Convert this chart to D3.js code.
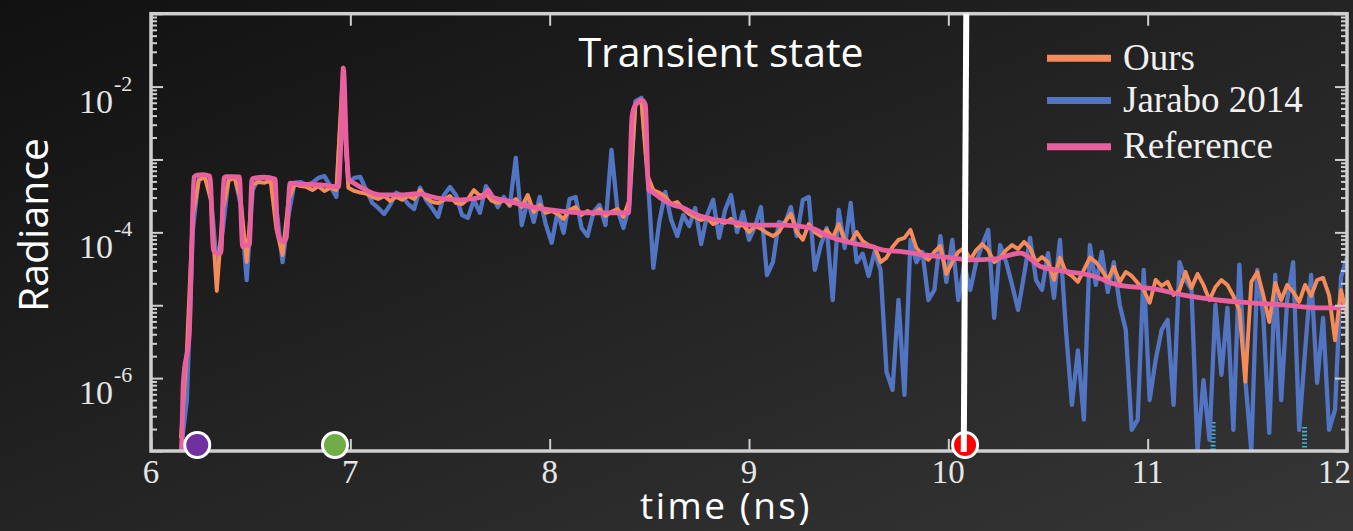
<!DOCTYPE html>
<html>
<head>
<meta charset="utf-8">
<script src="https://cdn.jsdelivr.net/npm/d3@7"></script>
<style>
  html, body { margin: 0; padding: 0; background: #1c1c1c; }
  svg { display: block; }
</style>
</head>
<body>
<svg id="chart" width="1353" height="531"></svg>
<script>
// Time-resolved radiance at one pixel (log scale), three estimators.
// "Ours" and "Jarabo 2014" are sampled on a uniform time grid.
const sampleStart = 6.15;   // ns
const sampleStep = 0.03;    // ns

const ours = [
  1.5e-7, 2.4e-6, 1.73e-4, 5.2e-4, 5.75e-4, 2.8e-4, 1.57e-5, 2.0e-4, 5.2e-4, 5.6e-4,
  2.8e-4, 3.9e-5, 4.5e-4, 4.9e-4, 4.8e-4, 5.1e-4, 1.08e-4, 4.9e-5, 2.8e-4, 4.6e-4,
  4.3e-4, 4.2e-4, 3.8e-4, 4.3e-4, 3.7e-4, 4.1e-4, 3.8e-4, 1.2e-2, 4.1e-4, 3.7e-4,
  3.5e-4, 3.4e-4, 3.06e-4, 2.87e-4, 3.16e-4, 2.7e-4, 3.06e-4, 2.79e-4, 3.16e-4, 2.87e-4,
  3.8e-4, 2.96e-4, 2.61e-4, 2.53e-4, 2.79e-4, 3.16e-4, 2.53e-4, 2.45e-4, 2.87e-4, 3.8e-4,
  3.16e-4, 3.4e-4, 2.7e-4, 2.53e-4, 2.79e-4, 2.38e-4, 2.87e-4, 2.23e-4, 3.26e-4, 1.91e-4,
  2.38e-4, 1.85e-4, 1.97e-4, 1.79e-4, 1.53e-4, 2.03e-4, 2.23e-4, 1.73e-4, 1.97e-4, 1.79e-4,
  2.09e-4, 1.68e-4, 1.91e-4, 2.09e-4, 1.63e-4, 2.79e-4, 5.6e-3, 6.5e-3, 6.1e-4, 3.8e-4,
  3.5e-4, 3.06e-4, 2.45e-4, 2.61e-4, 2.09e-4, 1.79e-4, 1.63e-4, 1.48e-4, 1.58e-4, 1.30e-4,
  1.43e-4, 1.35e-4, 1.53e-4, 1.22e-4, 1.26e-4, 1.01e-4, 1.22e-4, 1.12e-4, 9.8e-5, 8.9e-5,
  1.01e-4, 1.39e-4, 1.79e-4, 1.01e-4, 7.9e-5, 1.30e-4, 1.01e-4, 8.9e-5, 1.08e-4, 8.4e-5,
  1.30e-4, 7.9e-5, 7.2e-5, 1.01e-4, 7.6e-5, 6.7e-5, 6.3e-5, 3.9e-5, 4.5e-5, 6.3e-5,
  7.9e-5, 8.4e-5, 1.08e-4, 6.1e-5, 4.9e-5, 4.2e-5, 5.4e-5, 6.5e-5, 2.69e-5, 3.9e-5,
  5.4e-5, 6.1e-5, 4.2e-5, 5.7e-5, 6.9e-5, 5.7e-5, 3.9e-5, 4.5e-5, 5.7e-5, 6.7e-5,
  5.9e-5, 7.4e-5, 6.1e-5, 3.9e-5, 4.6e-5, 3.9e-5, 2.22e-5, 4.5e-5, 2.86e-5, 2.52e-5,
  2.09e-5, 3.05e-5, 4.5e-5, 3.9e-5, 3.05e-5, 2.22e-5, 3.35e-5, 2.09e-5, 2.86e-5, 2.52e-5,
  2.02e-5, 1.62e-5, 1.08e-5, 2.22e-5, 1.84e-5, 2.09e-5, 1.38e-5, 1.62e-5, 2.86e-5, 1.73e-5,
  2.69e-5, 1.90e-5, 1.18e-5, 1.78e-5, 2.22e-5, 1.90e-5, 1.34e-5, 8.6e-6, 8.9e-7, 2.09e-5,
  2.86e-5, 1.38e-5, 5.9e-6, 2.02e-5, 1.18e-5, 1.90e-5, 1.52e-5, 1.11e-5, 1.90e-5, 1.34e-5,
  2.22e-5, 2.37e-5, 1.38e-5, 3.3e-6, 1.62e-5, 7.1e-6
];

const jarabo = [
  1.0e-7, 5.0e-7, 1.08e-4, 5.75e-4, 5.9e-4, 3.26e-4, 3.6e-5, 1.08e-4, 5.75e-4, 5.75e-4,
  2.38e-4, 2.22e-5, 3.8e-4, 5.6e-4, 5.6e-4, 5.4e-4, 2.03e-4, 3.9e-5, 1.73e-4, 4.8e-4,
  4.9e-4, 4.5e-4, 4.8e-4, 5.6e-4, 5.9e-4, 4.3e-4, 3.06e-4, 9.0e-3, 4.8e-4, 5.6e-4,
  5.75e-4, 3.8e-4, 2.53e-4, 2.16e-4, 1.79e-4, 2.38e-4, 3.5e-4, 3.16e-4, 2.45e-4, 2.09e-4,
  4.1e-4, 2.79e-4, 2.16e-4, 1.63e-4, 3.26e-4, 4.2e-4, 3.26e-4, 1.73e-4, 1.58e-4, 2.79e-4,
  1.85e-4, 4.3e-4, 3.26e-4, 2.23e-4, 3.06e-4, 2.30e-4, 1.05e-3, 1.26e-4, 2.79e-4, 1.39e-4,
  3.06e-4, 1.30e-4, 7.2e-5, 1.91e-4, 9.8e-5, 2.87e-4, 3.06e-4, 1.15e-4, 8.9e-5, 1.91e-4,
  2.38e-4, 1.26e-4, 1.35e-3, 2.03e-4, 1.15e-4, 2.38e-4, 6.3e-3, 7.0e-3, 7.2e-4, 3.25e-5,
  1.39e-4, 3.6e-4, 1.48e-4, 8.9e-5, 1.73e-4, 1.22e-4, 2.16e-4, 6.9e-5, 1.73e-4, 2.79e-4,
  8.4e-5, 2.03e-4, 3.26e-4, 1.01e-4, 1.91e-4, 7.9e-5, 1.19e-4, 2.23e-4, 2.6e-5, 3.9e-5,
  1.39e-4, 1.30e-4, 2.23e-4, 8.9e-5, 2.79e-4, 3.06e-4, 3.05e-5, 6.7e-5, 1.15e-4, 1.18e-5,
  2.03e-4, 6.1e-5, 2.53e-4, 3.9e-5, 5.1e-5, 2.52e-5, 5.4e-5, 3.05e-5, 1.22e-6, 6.9e-7,
  1.18e-5, 5.9e-7, 7.9e-5, 3.9e-5, 5.4e-5, 1.18e-5, 1.62e-5, 8.9e-5, 2.09e-5, 7.9e-5,
  1.18e-5, 3.6e-5, 1.62e-5, 3.9e-5, 6.7e-5, 1.08e-4, 6.7e-6, 6.7e-5, 3.9e-5, 1.90e-5,
  8.6e-6, 2.6e-5, 8.4e-5, 2.22e-5, 1.62e-5, 5.2e-5, 1.26e-5, 7.9e-5, 4.6e-6, 4.3e-7,
  2.4e-6, 2.7e-7, 6.7e-5, 1.90e-5, 5.4e-5, 1.52e-5, 3.9e-5, 1.01e-5, 4.6e-6, 1.95e-7,
  2.7e-7, 3.05e-5, 5.0e-7, 1.78e-6, 4.6e-6, 6.3e-6, 4.3e-7, 3.9e-5, 2.22e-5, 1.62e-5,
  1.0e-7, 9.4e-7, 1.42e-7, 1.01e-5, 1.11e-6, 9.2e-6, 1.95e-7, 3.6e-5, 9.4e-7, 1.0e-7,
  3.05e-5, 7.1e-6, 1.77e-7, 2.6e-5, 5.0e-7, 1.18e-5, 3.9e-5, 1.95e-7, 2.4e-6, 2.6e-5,
  8.6e-7, 6.7e-6, 1.95e-7, 3.7e-7, 2.45e-5, 4.5e-5
];

// Reference solution, sampled where it changes.
const referenceTimes = [
  6.154, 6.162, 6.192, 6.204, 6.216, 6.231, 6.261, 6.296, 6.313, 6.330,
  6.350, 6.366, 6.377, 6.443, 6.460, 6.472, 6.493, 6.506, 6.512, 6.567,
  6.622, 6.633, 6.643, 6.664, 6.678, 6.698, 6.748, 6.823, 6.873, 6.940,
  6.951, 6.965, 6.981, 6.994, 7.009, 7.049, 7.149, 7.250, 7.335, 7.436,
  7.551, 7.667, 7.690, 7.712, 7.802, 7.903, 8.003, 8.169, 8.395, 8.413,
  8.430, 8.463, 8.480, 8.496, 8.514, 8.555, 8.620, 8.671, 8.739, 8.840,
  8.940, 9.007, 9.173, 9.309, 9.409, 9.510, 9.609, 9.675, 9.775, 9.876,
  10.011, 10.111, 10.227, 10.362, 10.463, 10.597, 10.729, 10.848, 11.015, 11.181,
  11.350, 11.517, 11.683, 11.852, 12.0
];
const referenceValues = [
  1.0e-7, 8.6e-7, 4.2e-6, 5.7e-5, 5.75e-4, 6.1e-4, 6.2e-4, 5.9e-4, 5.7e-5, 5.2e-5,
  5.2e-5, 5.6e-4, 5.8e-4, 5.75e-4, 6.4e-5, 6.7e-5, 6.7e-5, 5.2e-4, 5.5e-4, 5.7e-4,
  5.4e-4, 1.26e-4, 8.4e-5, 7.4e-5, 8.4e-5, 4.75e-4, 4.6e-4, 4.5e-4, 4.4e-4, 4.2e-4,
  1.35e-3, 1.8e-2, 1.35e-3, 5.2e-4, 4.9e-4, 4.2e-4, 3.26e-4, 3.26e-4, 3.4e-4, 2.96e-4,
  2.79e-4, 3.06e-4, 3.8e-4, 3.06e-4, 2.64e-4, 2.25e-4, 2.03e-4, 1.85e-4, 1.85e-4, 3.8e-3,
  5.6e-3, 6.5e-3, 5.6e-3, 3.8e-4, 3.6e-4, 2.96e-4, 2.38e-4, 2.16e-4, 1.73e-4, 1.48e-4,
  1.35e-4, 1.26e-4, 1.26e-4, 1.15e-4, 8.6e-5, 7.2e-5, 6.4e-5, 5.7e-5, 5.4e-5, 4.9e-5,
  4.5e-5, 4.2e-5, 4.3e-5, 5.2e-5, 3.4e-5, 2.9e-5, 2.5e-5, 1.9e-5, 1.7e-5, 1.38e-5,
  1.18e-5, 1.08e-5, 1.01e-5, 9.2e-6, 9.2e-6
];

// Time bins where the Jarabo 2014 estimate is exactly zero.
const zeroBinTimes = [11.328, 11.787];

// Frames picked out on the time axis, and the frame currently shown.
const markerTimes = [6.232, 6.923, 10.084];
const markerColors = ["#7030a0", "#70ad47", "#ff0000"];
const currentTime = 10.09;

const xTickValues = [6, 7, 8, 9, 10, 11, 12];
const yLabelExponents = [-2, -4, -6];
const seriesNames = ["Ours", "Jarabo 2014", "Reference"];
const seriesColors = ["#f58b5b", "#5174c3", "#e9609e"];

// ---------------------------------------------------------------------------
const W = 1353, H = 531;
const plotL = 151, plotR = 1347, plotT = 13.7, plotB = 451;
const svg = d3.select("#chart");

const defs = svg.append("defs");
const bg = defs.append("linearGradient").attr("id", "bg")
  .attr("x1", 0).attr("y1", 0).attr("x2", 1).attr("y2", 1);
bg.append("stop").attr("offset", "0%").attr("stop-color", "#111111");
bg.append("stop").attr("offset", "100%").attr("stop-color", "#363636");
defs.append("clipPath").attr("id", "plotClip")
  .append("rect").attr("x", plotL).attr("y", plotT)
  .attr("width", plotR - plotL).attr("height", plotB - plotT);

svg.append("rect").attr("width", W).attr("height", H).attr("fill", "url(#bg)");

const x = d3.scaleLinear().domain([6, 12]).range([plotL, plotR]);
const y = d3.scaleLog().domain([1e-7, 1e-1]).range([plotB, plotT]);

const gridPoints = vals => vals.map((v, i) => [sampleStart + i * sampleStep, v]);
const line = d3.line().x(d => x(d[0])).y(d => y(d[1]));
const smoothLine = d3.line().x(d => x(d[0])).y(d => y(d[1])).curve(d3.curveMonotoneX);

const plot = svg.append("g").attr("clip-path", "url(#plotClip)");

// Zero bins: hatched stubs standing on the time axis.
plot.selectAll("line.zero").data(zeroBinTimes).join("line")
  .attr("class", "zero")
  .attr("x1", d => x(d)).attr("x2", d => x(d))
  .attr("y1", (d, i) => plotB - (i === 0 ? 29 : 24)).attr("y2", plotB)
  .attr("stroke", "#3fb4dc").attr("stroke-width", 5)
  .attr("stroke-dasharray", "1.6,2.2");

plot.append("path").datum(gridPoints(jarabo))
  .attr("d", line).attr("fill", "none")
  .attr("stroke", seriesColors[1]).attr("stroke-width", 4.3)
  .attr("stroke-linejoin", "round");

plot.append("path").datum(gridPoints(ours))
  .attr("d", line).attr("fill", "none")
  .attr("stroke", seriesColors[0]).attr("stroke-width", 3.9)
  .attr("stroke-linejoin", "round");

plot.append("path").datum(referenceTimes.map((t, i) => [t, referenceValues[i]]))
  .attr("d", smoothLine).attr("fill", "none")
  .attr("stroke", seriesColors[2]).attr("stroke-width", 4.8)
  .attr("stroke-linejoin", "round");

// Axes: inward ticks on all four sides.
const axisColor = "#cfcfcf";
const styleAxis = g => {
  g.select(".domain").remove();
  g.selectAll(".tick line").attr("stroke", axisColor).attr("stroke-width", 2);
  g.selectAll(".tick text").remove();
};
const yAll = y.ticks();
const yMajor = yAll.filter(v => Math.abs(Math.log10(v) - Math.round(Math.log10(v))) < 1e-9);
const yMinor = yAll.filter(v => !yMajor.includes(v));

svg.append("g").attr("transform", `translate(${plotL},0)`)
  .call(d3.axisLeft(y).tickValues(yMinor).tickSize(-6)).call(styleAxis);
svg.append("g").attr("transform", `translate(${plotL},0)`)
  .call(d3.axisLeft(y).tickValues(yMajor).tickSize(-12)).call(styleAxis);
svg.append("g").attr("transform", `translate(${plotR},0)`)
  .call(d3.axisRight(y).tickValues(yMinor).tickSize(-6)).call(styleAxis);
svg.append("g").attr("transform", `translate(${plotR},0)`)
  .call(d3.axisRight(y).tickValues(yMajor).tickSize(-12)).call(styleAxis);
svg.append("g").attr("transform", `translate(0,${plotB})`)
  .call(d3.axisBottom(x).tickValues(xTickValues).tickSize(-12)).call(styleAxis);
svg.append("g").attr("transform", `translate(0,${plotT})`)
  .call(d3.axisTop(x).tickValues(xTickValues).tickSize(-12)).call(styleAxis);

svg.append("rect")
  .attr("x", plotL).attr("y", plotT).attr("width", plotR - plotL).attr("height", plotB - plotT)
  .attr("fill", "none").attr("stroke", axisColor).attr("stroke-width", 3.5);

// Tick labels
const serif = "'Liberation Serif', 'Times New Roman', serif";
const sans = "'Open Sans', 'Noto Sans', sans-serif";
svg.append("g").selectAll("text").data(xTickValues).join("text")
  .attr("x", d => d === 12 ? 1351 : x(d))
  .attr("y", 483)
  .attr("text-anchor", d => d === 12 ? "end" : "middle")
  .attr("font-family", serif).attr("font-size", 33).attr("fill", "#e6e6e6")
  .text(d => d);

const yLab = svg.append("g").selectAll("g").data(yLabelExponents).join("g");
yLab.append("text")
  .attr("x", 113).attr("y", d => y(Math.pow(10, d)) + 26)
  .attr("text-anchor", "end")
  .attr("font-family", serif).attr("font-size", 34).attr("fill", "#e6e6e6")
  .text("10");
yLab.append("text")
  .attr("x", 114).attr("y", d => y(Math.pow(10, d)) + 4)
  .attr("font-family", serif).attr("font-size", 22).attr("fill", "#e6e6e6")
  .text(d => "-" + Math.abs(d));

// Axis titles and panel title
svg.append("text")
  .attr("transform", "translate(48,225) rotate(-90)")
  .attr("text-anchor", "middle")
  .attr("font-family", sans).attr("font-size", 41).attr("fill", "#ffffff")
  .text("Radiance");
svg.append("text")
  .attr("x", 726).attr("y", 519)
  .attr("text-anchor", "middle")
  .attr("font-family", sans).attr("font-size", 37).attr("letter-spacing", 2.5)
  .attr("fill", "#ffffff")
  .text("time (ns)");
svg.append("text")
  .attr("x", 721).attr("y", 67)
  .attr("text-anchor", "middle")
  .attr("font-family", sans).attr("font-size", 41).attr("fill", "#ffffff")
  .text("Transient state");

// Legend
const legend = svg.append("g").selectAll("g").data(seriesNames).join("g")
  .attr("transform", (d, i) => `translate(0,${[58.3, 100.5, 146.7][i]})`);
legend.append("line")
  .attr("x1", 1047).attr("x2", 1111)
  .attr("stroke", (d, i) => seriesColors[i]).attr("stroke-width", 7);
legend.append("text")
  .attr("x", 1123).attr("y", 11.5)
  .attr("font-family", serif).attr("font-size", 37).attr("fill", "#f0f0f0")
  .text(d => d);

// Current-frame cursor and frame markers on the time axis
const markers = svg.append("g");
markers.selectAll("circle").data(markerTimes).join("circle")
  .attr("cx", d => x(d)).attr("cy", 445).attr("r", 12.5)
  .attr("fill", (d, i) => markerColors[i])
  .attr("stroke", "#ffffff").attr("stroke-width", 3);
svg.append("line")
  .attr("x1", x(currentTime)).attr("x2", x(currentTime) - 2.5)
  .attr("y1", plotT).attr("y2", 452)
  .attr("stroke", "#ffffff").attr("stroke-width", 6);
</script>
</body>
</html>
